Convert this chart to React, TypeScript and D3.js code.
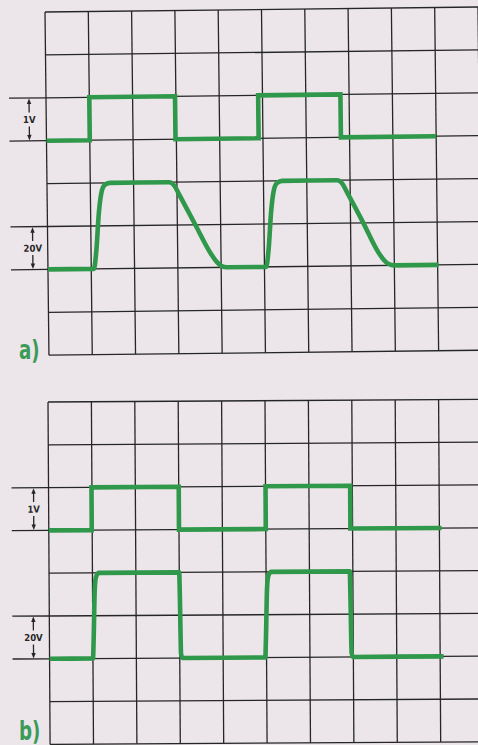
import React from 'react'
import * as d3 from 'd3'

const width = 478
const height = 745

// graticule divisions
const cols = d3.range(0, 11)
const rows = d3.range(0, 9)

// channel sensitivity markers: text and the division row where each one starts
const chLabels = ['1V', '20V']
const chLabelRows = [2, 5]

// a) upper trace (1 V/div): time in divisions, level in divisions from the top
const aTopT = [0, 1.0, 1.0, 2.98, 2.98, 4.9, 4.9, 6.8, 6.8, 9.0]
const aTopY = [3, 3, 2, 2, 3, 3, 2, 2, 3, 3]

// a) lower trace (20 V/div), slow edges
const aBotT = [0, 1.06, 1.12, 1.19, 1.25, 1.33, 1.45, 2.82, 2.94, 3.03, 3.4, 3.78, 3.9, 4.0, 4.14,
  5.04, 5.1, 5.17, 5.23, 5.31, 5.43, 6.7, 6.82, 6.91, 7.28, 7.64, 7.76, 7.86, 8.0, 9.02]
const aBotY = [6, 6, 5.6, 4.7, 4.25, 4.05, 4, 4, 4.08, 4.25, 4.97, 5.7, 5.87, 5.96, 6,
  6, 5.6, 4.7, 4.25, 4.05, 4, 4, 4.08, 4.25, 4.97, 5.7, 5.87, 5.96, 6, 6]

// b) upper trace (1 V/div)
const bTopT = [0, 0.99, 0.99, 3.0, 3.0, 5.0, 5.0, 6.95, 6.95, 9.05]
const bTopY = [3, 3, 2, 2, 3, 3, 2, 2, 3, 3]

// b) lower trace (20 V/div), fast edges
const bBotT = [0, 1.0, 1.02, 1.05, 1.08, 1.15, 3.0, 3.01, 3.03, 3.06, 4.97, 4.99, 5.02, 5.05, 5.12,
  6.93, 6.94, 6.96, 6.99, 9.08]
const bBotY = [6, 6, 5.5, 4.4, 4.1, 4, 4, 4.5, 5.9, 6, 6, 5.5, 4.4, 4.1, 4,
  4, 4.5, 5.9, 6, 6]

const green = '#2f984b'
const ink = '#262626'

type Panel = {
  caption: string
  ox: number
  oy: number
  dx: number
  dy: number
  rot: number
  markX: number[]
  captionY: number
  traces: { t: number[]; y: number[]; smooth: boolean }[]
}

const panels: Panel[] = [
  {
    caption: 'a)', ox: 45, oy: 12, dx: 43.3, dy: 42.9, rot: -0.66, markX: [-17, -15], captionY: 359,
    traces: [
      { t: aTopT, y: aTopY, smooth: false },
      { t: aBotT, y: aBotY, smooth: true },
    ],
  },
  {
    caption: 'b)', ox: 48, oy: 402, dx: 43.4, dy: 42.8, rot: -0.35, markX: [-15, -16], captionY: 740,
    traces: [
      { t: bTopT, y: bTopY, smooth: false },
      { t: bBotT, y: bBotY, smooth: true },
    ],
  },
]

function Marker({ x0, y0, y1, label }: { x0: number; y0: number; y1: number; label: string }) {
  const mid = (y0 + y1) / 2
  const gap = 7
  const head = 5
  return (
    <g>
      <line x1={-37} x2={0} y1={y0} y2={y0} stroke={ink} strokeWidth={1.3} />
      <line x1={-37} x2={0} y1={y1} y2={y1} stroke={ink} strokeWidth={1.3} />
      <line x1={x0} x2={x0} y1={y0 + head} y2={mid - gap} stroke={ink} strokeWidth={1.3} />
      <line x1={x0} x2={x0} y1={mid + gap} y2={y1 - head} stroke={ink} strokeWidth={1.3} />
      <path d={`M${x0},${y0 + 0.5} L${x0 - 2.2},${y0 + head + 1} L${x0 + 2.2},${y0 + head + 1} Z`} fill={ink} />
      <path d={`M${x0},${y1 - 0.5} L${x0 - 2.2},${y1 - head - 1} L${x0 + 2.2},${y1 - head - 1} Z`} fill={ink} />
      <text x={x0} y={mid + 3.5} textAnchor="middle" fontSize={9.5} fontWeight="bold"
        fontFamily="'DejaVu Sans Condensed', 'DejaVu Sans', sans-serif" fill={ink}>{label}</text>
    </g>
  )
}

function Scope({ p }: { p: Panel }) {
  const x = d3.scaleLinear().domain([0, 10]).range([0, 10 * p.dx])
  const y = d3.scaleLinear().domain([0, 8]).range([0, 8 * p.dy])

  return (
    <g transform={`translate(${p.ox},${p.oy}) rotate(${p.rot})`}>
      {rows.map(r => (
        <line key={'h' + r} x1={x(0)} x2={x(10.5)} y1={y(r)} y2={y(r)} stroke={ink} strokeWidth={1.3} />
      ))}
      {cols.map(c => (
        <line key={'v' + c} x1={x(c)} x2={x(c)} y1={y(0)} y2={y(8)} stroke={ink} strokeWidth={1.3} />
      ))}
      {chLabels.map((l, i) => (
        <Marker key={l} x0={p.markX[i]} y0={y(chLabelRows[i])} y1={y(chLabelRows[i] + 1)} label={l} />
      ))}
      {p.traces.map((tr, i) => {
        const pts: [number, number][] = tr.t.map((t, k) => [t, tr.y[k]])
        const line = d3.line<[number, number]>()
          .x(d => x(d[0]))
          .y(d => y(d[1]))
          .curve(tr.smooth ? d3.curveMonotoneX : d3.curveLinear)
        return (
          <path key={i} d={line(pts) || ''} fill="none" stroke={green} strokeWidth={4.6}
            strokeLinejoin="miter" strokeLinecap="butt" />
        )
      })}
    </g>
  )
}

export default function App() {
  return (
    <svg width={width} height={height} style={{ position: 'absolute', left: 0, top: 0, display: 'block' }}>
      <rect width={width} height={height} fill="#ece6ea" />
      {panels.map(p => (
        <g key={p.caption}>
          <Scope p={p} />
          <text transform={`translate(19,${p.captionY}) scale(0.78,1)`} fontSize={26} fontWeight="bold" fill="#3a9a58"
            fontFamily="'DejaVu Sans Condensed', 'DejaVu Sans', sans-serif">{p.caption}</text>
        </g>
      ))}
    </svg>
  )
}
